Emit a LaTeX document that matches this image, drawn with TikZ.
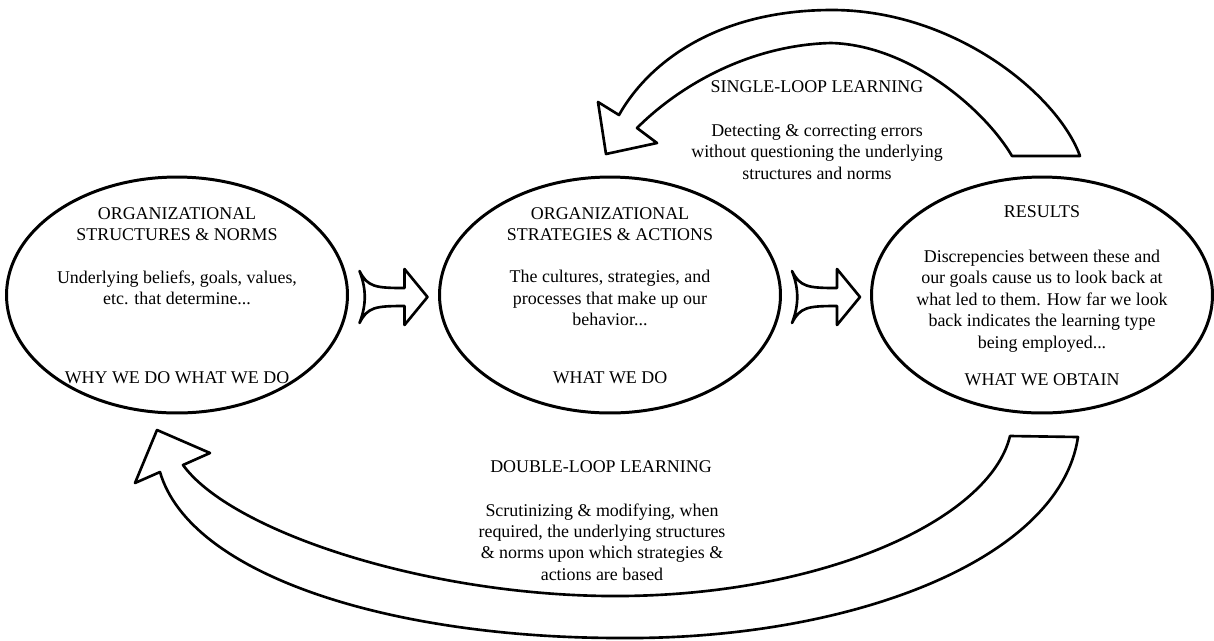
\documentclass[tikz,border=0pt]{standalone}
\usepackage{fontspec}
\setmainfont{Liberation Serif}
\usetikzlibrary{shapes.geometric,calc}
\newcommand\FatArrow[2]{
  \begin{scope}[shift={($(#1.east)!0.5!(#2.west)+(0,2)$)}]
    \draw[outline] (-34,-26) .. controls (-26,-10) and (-18,-9) .. (11,-9)
      -- (11,-28) -- (34,0) -- (11,28) -- (11,9)
      .. controls (-18,9) and (-26,10) .. (-34,26)
      .. controls (-27,8) and (-27,-8) .. cycle;
  \end{scope}
}

\begin{document}
\begin{tikzpicture}[x=0.02cm, y=-0.02cm,
  outline/.style={line width=1.5pt, line join=round},
  oval/.style={ellipse, draw, line width=1.7pt, minimum width=6.82cm,
    minimum height=4.72cm, inner sep=0pt},
  txt/.style={align=center, inner sep=0pt, font=\fontsize{10.2}{12.2}\selectfont}]
\useasboundingbox (0,0) rectangle (1214,640);
\foreach \n/\x in {norms/177,acts/610,results/1042}
  \node[oval] (\n) at (\x,295) {};
\foreach \a/\b in {norms/acts,acts/results}
  {\FatArrow{\a}{\b}}

% texts in the ovals
\node[txt] (normsHead) at ($(norms)+(0,-71)$) {ORGANIZATIONAL\\STRUCTURES \& NORMS};
\node[txt] (normsBody) at ($(norms)+(0,-7)$) {Underlying beliefs, goals, values,\\etc. that determine...};
\node[txt] (normsWhy) at ($(norms)+(0,83)$) {WHY WE DO WHAT WE DO};
\node[txt] (actsHead) at ($(acts)+(0,-71)$) {ORGANIZATIONAL\\STRATEGIES \& ACTIONS};
\node[txt] (actsBody) at ($(acts)+(0,3)$) {The cultures, strategies, and\\processes that make up our\\behavior...};
\node[txt] (actsWhat) at ($(acts)+(0,83)$) {WHAT WE DO};
\node[txt] (resHead) at ($(results)+(0,-83)$) {RESULTS};
\node[txt] (resBody) at ($(results)+(0,6)$) {Discrepencies between these and\\our goals cause us to look back at\\what led to them. How far we look\\back indicates the learning type\\being employed...};
\node[txt] (resWhat) at ($(results)+(0,85)$) {WHAT WE OBTAIN};

% single loop
\draw[outline] (1080,156) .. controls (1058,95) and (955,10) .. (832,10)
  .. controls (720,10) and (650,60) .. (619,115)
  -- (598,102) -- (606,154) -- (657,143) -- (637,128)
  .. controls (680,85) and (750,45) .. (831,43)
  .. controls (910,45) and (985,110) .. (1012,156) -- cycle;
\node[txt] (singleHead) at (817,87) {SINGLE-LOOP LEARNING};
\node[txt] (singleBody) at (817,152) {Detecting \& correcting errors\\without questioning the underlying\\structures and norms};

% double loop
\draw[outline] (1078,437) .. controls (1060,560) and (850,640) .. (620,638)
  .. controls (390,638) and (190,575) .. (160,472)
  -- (135,483) -- (157,430) -- (210,453) -- (183,465)
  .. controls (230,530) and (420,594) .. (607,596)
  .. controls (820,598) and (990,520) .. (1010,436) -- cycle;
\node[txt] (doubleHead) at (601,467) {DOUBLE-LOOP LEARNING};
\node[txt] (doubleBody) at (602,542) {Scrutinizing \& modifying, when\\required, the underlying structures\\\& norms upon which strategies \&\\actions are based};
\end{tikzpicture}
\end{document}
